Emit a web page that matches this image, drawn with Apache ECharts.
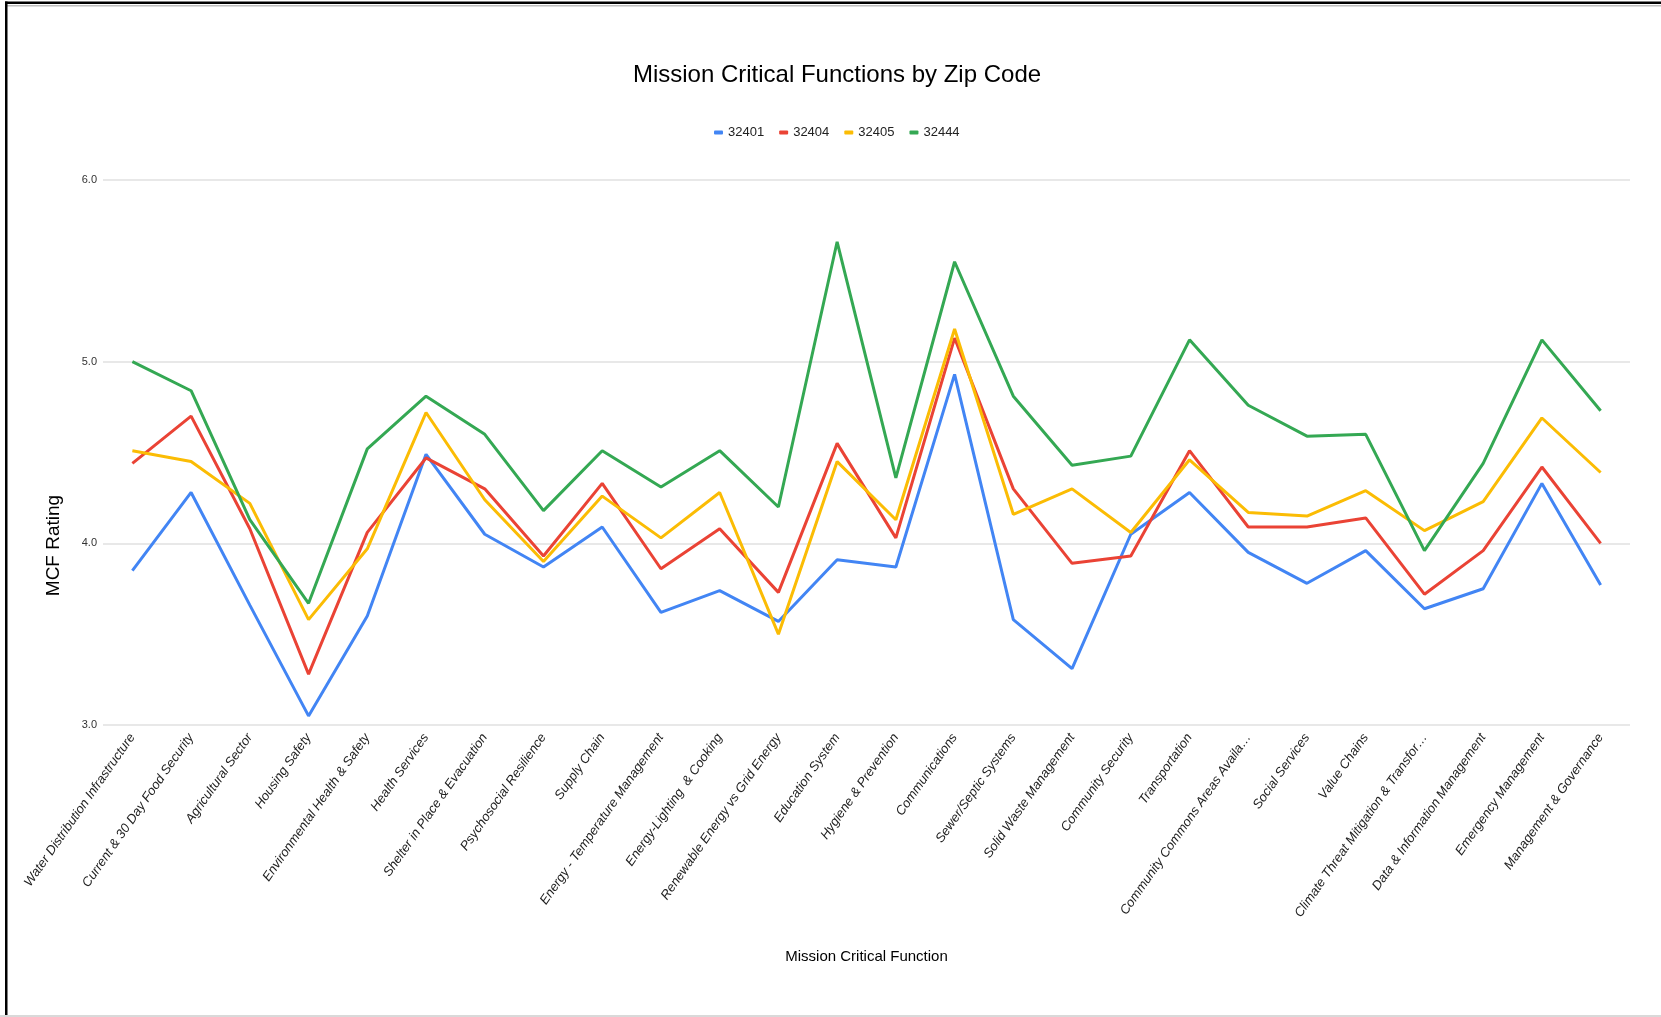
<!DOCTYPE html>
<html>
<head>
<meta charset="utf-8">
<script src="https://cdn.jsdelivr.net/npm/echarts@6/dist/echarts.min.js"></script>
<style>
  html, body { margin: 0; padding: 0; background: #fff; }
  #chart { width: 1661px; height: 1017px; }
</style>
</head>
<body>
<div id="chart"></div>
<script>
const categories = [
  "Water Distribution Infrastructure",
  "Current & 30 Day Food Security",
  "Agricultural Sector",
  "Housing Safety",
  "Environmental Health & Safety",
  "Health Services",
  "Shelter in Place & Evacuation",
  "Psychosocial Resilience",
  "Supply Chain",
  "Energy - Temperature Management",
  "Energy-Lighting  & Cooking",
  "Renewable Energy vs Grid Energy",
  "Education System",
  "Hygiene & Prevention",
  "Communications",
  "Sewer/Septic Systems",
  "Solid Waste Management",
  "Community Security",
  "Transportation",
  "Community Commons Areas Availa…",
  "Social Services",
  "Value Chains",
  "Climate Threat Mitigation & Transfor…",
  "Data & Information Management",
  "Emergency Management",
  "Management & Governance"
];

const seriesNames = ["32401", "32404", "32405", "32444"];

const zip32401 = [3.85, 4.28, 3.66, 3.05, 3.60, 4.49, 4.05, 3.87, 4.09, 3.62, 3.74, 3.57, 3.91, 3.87, 4.93, 3.58, 3.31, 4.05, 4.28, 3.95, 3.78, 3.96, 3.64, 3.75, 4.33, 3.77];
const zip32404 = [4.44, 4.70, 4.08, 3.28, 4.06, 4.47, 4.30, 3.93, 4.33, 3.86, 4.08, 3.73, 4.55, 4.03, 5.13, 4.30, 3.89, 3.93, 4.51, 4.09, 4.09, 4.14, 3.72, 3.96, 4.42, 4.00];
const zip32405 = [4.51, 4.45, 4.22, 3.58, 3.97, 4.72, 4.24, 3.90, 4.26, 4.03, 4.28, 3.50, 4.45, 4.13, 5.18, 4.16, 4.30, 4.06, 4.46, 4.17, 4.15, 4.29, 4.07, 4.23, 4.69, 4.39];
const zip32444 = [5.00, 4.84, 4.13, 3.67, 4.52, 4.81, 4.60, 4.18, 4.51, 4.31, 4.51, 4.20, 5.66, 4.36, 5.55, 4.81, 4.43, 4.48, 5.12, 4.76, 4.59, 4.60, 3.96, 4.44, 5.12, 4.73];

const yTicks = { min: 3, max: 6, interval: 1 };

const colors = ["#4285F4", "#EA4335", "#FBBC04", "#34A853"];
const allValues = [zip32401, zip32404, zip32405, zip32444];

const FONT = "'Liberation Sans', Arial, sans-serif";

const chart = echarts.init(document.getElementById('chart'), null, { renderer: 'canvas' });

const option = {
  backgroundColor: '#ffffff',
  animation: false,
  color: colors,
  title: {
    text: 'Mission Critical Functions by Zip Code',
    left: 832,
    textAlign: 'center',
    top: 58,
    textStyle: { fontFamily: FONT, fontSize: 24, fontWeight: 'normal', color: '#000' }
  },
  legend: {
    data: seriesNames,
    left: 709,
    top: 121,
    icon: 'roundRect',
    itemWidth: 9,
    itemHeight: 4,
    itemGap: 15,
    textStyle: { fontFamily: FONT, fontSize: 13, color: '#222' }
  },
  grid: { left: 103, right: 31, top: 180, bottom: 292, containLabel: false },
  xAxis: {
    type: 'category',
    data: categories,
    boundaryGap: true,
    axisLine: { show: false },
    axisTick: { show: false },
    axisLabel: {
      interval: 0,
      rotate: 55,
      margin: 10,
      fontFamily: FONT,
      fontSize: 13,
      fontStyle: 'italic',
      color: '#222'
    },
    name: 'Mission Critical Function',
    nameLocation: 'middle',
    nameGap: 224,
    nameTextStyle: { fontFamily: FONT, fontSize: 15, color: '#000' }
  },
  yAxis: {
    type: 'value',
    min: yTicks.min,
    max: yTicks.max,
    interval: yTicks.interval,
    axisLine: { show: false },
    axisTick: { show: false },
    axisLabel: {
      margin: 6,
      fontFamily: FONT,
      fontSize: 11,
      color: '#333',
      formatter: v => v.toFixed(1)
    },
    splitLine: { lineStyle: { color: '#e0e0e0', width: 1.5 } },
    name: 'MCF Rating',
    nameLocation: 'middle',
    nameGap: 40,
    nameTextStyle: { fontFamily: FONT, fontSize: 19, color: '#000', padding: [0, 186, 0, 0] }
  },
  series: seriesNames.map((n, i) => ({
    name: n,
    type: 'line',
    data: allValues[i],
    symbol: 'none',
    lineStyle: { width: 3, color: colors[i] },
    itemStyle: { color: colors[i] }
  })),
  graphic: [
    { type: 'rect', shape: { x: 5, y: 1.5, width: 1656, height: 2.5 }, style: { fill: '#000' }, silent: true },
    { type: 'rect', shape: { x: 5, y: 5, width: 1656, height: 1.5 }, style: { fill: '#bdbdbd' }, silent: true },
    { type: 'rect', shape: { x: 5, y: 1.5, width: 2.5, height: 1016 }, style: { fill: '#000' }, silent: true },
    { type: 'rect', shape: { x: 0, y: 1015, width: 1661, height: 2 }, style: { fill: '#d9d9d9' }, silent: true }
  ]
};

chart.setOption(option);
</script>
</body>
</html>
